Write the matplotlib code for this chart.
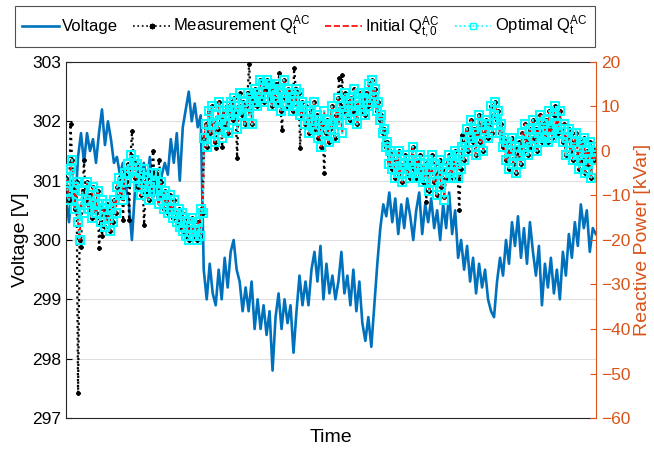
import numpy as np
import matplotlib
matplotlib.use('Agg')
import matplotlib.pyplot as plt

plt.rcParams['font.family'] = ['Liberation Sans', 'DejaVu Sans']
plt.rcParams['mathtext.fontset'] = 'custom'
plt.rcParams['mathtext.rm'] = 'Liberation Sans'
plt.rcParams['mathtext.it'] = 'Liberation Sans:italic'

# voltage [V]
volt = [300.7, 300.3, 301.0, 300.5, 301.4, 301.8, 301.3, 301.8, 301.5, 301.7,
        301.3, 301.8, 302.2, 301.6, 302.0, 301.7, 301.3, 301.4, 301.1, 301.3,
        300.9, 300.6, 300.0, 300.8, 301.2, 300.9, 301.3, 301.0, 301.4, 300.7,
        300.9, 300.6, 301.1, 301.3, 301.1, 301.7, 301.3, 301.8, 301.0, 301.9,
        302.2, 302.5, 302.0, 302.3, 301.9, 302.1, 299.5, 299.0, 299.6, 299.1,
        298.9, 299.5, 299.0, 299.7, 299.2, 299.8, 300.0, 299.5, 299.3, 298.8,
        299.2, 298.8, 299.3, 298.5, 299.0, 298.5, 298.9, 298.4, 298.8, 297.8,
        298.7, 299.1, 298.5, 299.0, 298.6, 298.9, 298.1, 298.8, 299.4, 298.9,
        299.3, 298.9, 299.5, 299.8, 299.3, 299.9, 299.0, 299.6, 299.1, 299.4,
        299.0, 299.3, 299.8, 299.1, 299.4, 298.9, 299.5, 298.8, 299.3, 298.6,
        298.3, 298.7, 298.2, 298.9, 299.6, 300.2, 300.6, 300.4, 300.8, 300.3,
        300.7, 300.1, 300.6, 300.2, 300.7, 300.4, 300.0, 300.5, 300.8, 300.1,
        300.6, 300.3, 300.7, 300.2, 300.5, 300.0, 300.6, 300.2, 300.8, 300.1,
        300.5, 299.7, 300.0, 299.5, 299.9, 299.3, 299.7, 299.1, 299.6, 299.2,
        299.5, 299.0, 298.8, 298.7, 299.3, 299.7, 299.4, 300.0, 299.6, 300.3,
        299.9, 300.4, 299.7, 300.2, 299.6, 300.3, 299.8, 299.4, 299.9, 298.9,
        299.6, 299.2, 299.7, 299.1, 299.5, 299.0, 299.8, 299.4, 300.1, 299.7,
        300.3, 299.9, 300.6, 300.2, 300.5, 299.8, 300.2, 300.1]

# optimal reactive power [kVar]
q_opt = [-6, -9, -11, -4, -2, -8, -13, -7, -16, -20, -12, -9, -14, -11, -7, -13, -10, -15, -8, -12,
         -14, -9, -12, -16, -11, -13, -17, -12, -15, -18, -13, -16, -11, -14, -8, -6, -10, -7, -11, -5,
         -7, -3, -5, -1, -4, -2, -6, -3, -8, -5, -10, -7, -4, -9, -6, -11, -8, -5, -9, -7,
         -5, -9, -12, -7, -10, -13, -9, -11, -14, -10, -13, -15, -11, -14, -16, -13, -17, -14, -18, -15,
         -19, -16, -20, -17, -15, -19, -18, -20, -16, -19, -13, -14, 3, 6, 1, 9, 4, 10, 6, 2,
         8, 5, 11, 7, 3, 9, 6, 10, 4, 8, 11, 7, 12, 9, 5, 10, 13, 8, 11, 6,
         10, 13, 8, 12, 6, 11, 14, 10, 13, 16, 12, 15, 11, 14, 16, 12, 15, 10, 14, 12,
         15, 11, 14, 9, 13, 16, 12, 10, 14, 11, 13, 9, 12, 14, 10, 13, 8, 11, 9, 6,
         10, 7, 4, 9, 6, 11, 5, 8, 3, 7, 1, 6, 9, 4, 7, 2, 5, 10, 6, 3,
         8, 12, 6, 10, 4, 9, 13, 8, 11, 7, 12, 9, 14, 10, 6, 11, 13, 9, 12, 8,
         13, 10, 15, 11, 16, 12, 14, 9, 11, 7, 8, 4, 5, 1, 2, -3, 0, -4, -1, -6,
         -2, -5, 0, -4, -7, -3, -1, -5, -2, -6, -3, 1, -4, -6, -2, -5, -1, -4, -7, -3,
         -6, -2, -9, -4, -1, -7, -3, -10, -5, -2, -8, -4, -11, -6, -3, -1, -5, -2, -6, 0,
         -3, -6, -1, -4, 1, -2, 2, 5, 0, 3, 7, 2, 5, -1, 4, 8, 2, 6, 0, 4,
         7, 3, 6, 10, 4, 8, 11, 7, 9, 4, 6, 1, 3, -2, 2, -4, 0, 3, -3, 1,
         -5, -1, 2, -3, 4, 0, 6, 2, -1, 5, 1, 7, 3, 5, 0, 4, 8, 2, 6, 3,
         7, 2, 9, 5, 3, 8, 10, 6, 4, 9, 5, 2, 6, -1, 3, 5, 0, 4, -2, 2,
         4, -1, -4, 2, -2, 3, -5, 0, -3, 2, -6, 1, -2, 0]

# initial reactive power [kVar]
q_init = list(q_opt)

# measured reactive power: follows the optimum except at these samples
meas_idx = [3, 8, 10, 12, 22, 24, 38, 42, 44, 52, 58, 62, 100, 104, 114,
            122, 142, 144, 152, 156, 172, 182, 184, 240, 252, 262, 264]
meas_val = [6, -54.4, -21.5, -2, -21.8, -19, -15.6, -15.5, 4.5, -16.6, 0, -2, 0.7, 1, -1.5,
            19.5, 17.5, 4.7, 18.6, 0.7, -5, 16.5, 17, -11.5, -10.3, -13.3, 3.6]
q_meas = list(q_opt)
for i, v in zip(meas_idx, meas_val):
    q_meas[i] = v

tv = np.linspace(0, 1, len(volt))
tq = np.linspace(0, 1, len(q_opt))
orange = '#D95319'

fig = plt.figure(figsize=(6.54, 4.49), dpi=100)
ax = fig.add_axes([0.101, 0.069, 0.81, 0.793])
ax2 = ax.twinx()

lv, = ax.plot(tv, volt, color='#0072BD', lw=1.9, label='Voltage')
lm, = ax2.plot(tq, q_meas, color='k', ls=':', lw=1.6, marker=(8, 2, 0), ms=3,
               label=r'Measurement $\mathrm{Q}_\mathrm{t}^\mathrm{AC}$')
li, = ax2.plot(tq, q_init, color='#FF0000', ls='--', lw=1.4,
               label=r'Initial $\mathrm{Q}_\mathrm{t,0}^\mathrm{AC}$')
lo, = ax2.plot(tq, q_opt, color='#00FFFF', ls=':', lw=1.5, marker='s', ms=6,
               mfc='none', mec='#00FFFF', mew=1.5,
               label=r'Optimal $\mathrm{Q}_\mathrm{t}^\mathrm{AC}$')

ax.set_xlim(0, 1)
ax.set_ylim(297, 303)
ax.set_yticks(range(297, 304))
ax.set_xticks([])
ax.set_xlabel('Time', fontsize=14, labelpad=8)
ax.set_ylabel('Voltage [V]', fontsize=14, labelpad=2)
ax.tick_params(axis='y', direction='in', length=4, labelsize=12.5)
ax.yaxis.grid(True, color='#DFDFDF', lw=0.8)
ax.set_axisbelow(True)
ax.spines['right'].set_visible(False)
for s in ['left', 'top', 'bottom']:
    ax.spines[s].set_color('#262626')

ax2.set_ylim(-60, 20)
ax2.set_yticks(range(-60, 21, 10))
ax2.tick_params(axis='y', direction='in', length=4, labelsize=12.5, colors=orange)
ax2.set_ylabel('Reactive Power [kVar]', fontsize=14, color=orange, labelpad=3)
ax2.spines['right'].set_color(orange)
ax2.spines['left'].set_visible(False)
ax2.spines['top'].set_visible(False)
ax2.spines['bottom'].set_visible(False)

hs = [lv, lm, li, lo]
leg = fig.legend(hs, [h.get_label() for h in hs],
                 loc='upper center', bbox_to_anchor=(0.466, 0.993), ncol=4,
                 fontsize=12, frameon=True, fancybox=False, edgecolor='#262626',
                 handlelength=2.2, handletextpad=0.2, columnspacing=0.9,
                 borderpad=0.45, borderaxespad=0.2)
leg.get_frame().set_linewidth(0.8)
for h in leg.legend_handles[1:]:
    h.set_markersize(4)
    h.set_linewidth(1.2)
    h.set_markeredgewidth(1.0)

fig.savefig('out.png', dpi=100)
